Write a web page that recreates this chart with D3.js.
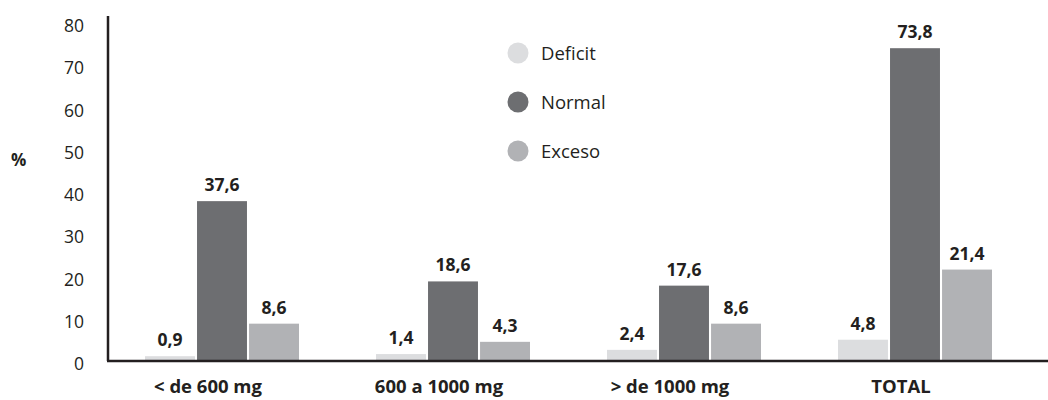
<!DOCTYPE html>
<html>
<head>
<meta charset="utf-8">
<script src="https://cdn.jsdelivr.net/npm/d3@7"></script>
<style>
  html, body { margin: 0; padding: 0; background: #fff; }
  svg { display: block; font-family: "Open Sans", "Noto Sans", sans-serif; }
</style>
</head>
<body>
<svg id="chart" width="1048" height="400"></svg>
<script>
// Consumption groups along the x axis
const categories = ["< de 600 mg", "600 a 1000 mg", "> de 1000 mg", "TOTAL"];
// Series (legend order)
const seriesNames = ["Deficit", "Normal", "Exceso"];
const deficitValues = [0.9, 1.4, 2.4, 4.8];
const normalValues = [37.6, 18.6, 17.6, 73.8];
const excesoValues = [8.6, 4.3, 8.6, 21.4];
const yTicks = [0, 10, 20, 30, 40, 50, 60, 70, 80];
const seriesColors = ["#dcdddf", "#6d6e71", "#b1b2b5"];

const seriesValues = [deficitValues, normalValues, excesoValues];
const ink = "#231f20";

const svg = d3.select("#chart");

const x = d3.scaleBand().domain(categories).range([106.5, 1030.5]).padding(0);
const xInner = d3.scaleBand().domain(seriesNames)
  .range([x.bandwidth() / 2 - 77, x.bandwidth() / 2 + 77])
  .paddingInner(0.04);
const y = d3.scaleLinear().domain([0, 80]).range([360, 22]);

// Y axis tick labels
const yAxis = d3.axisLeft(y).tickValues(yTicks).tickSize(0).tickPadding(0)
  .tickFormat(d3.format("d"));
const yG = svg.append("g").attr("transform", "translate(84,0)").call(yAxis);
yG.select(".domain").remove();
yG.selectAll("text")
  .attr("font-family", "'Open Sans', 'Noto Sans', sans-serif")
  .attr("font-size", 17.5)
  .attr("fill", ink)
  .attr("dy", "0.72em")
  .attr("y", -3);

// "%" unit label
svg.append("text").attr("x", 11).attr("y", 166)
  .attr("font-size", 17).attr("font-weight", 700).attr("fill", ink)
  .text("%");

// Bars
const groups = svg.append("g").selectAll("g")
  .data(categories)
  .join("g")
  .attr("transform", d => `translate(${x(d)},0)`);

groups.each(function(cat, ci) {
  const g = d3.select(this);
  seriesNames.forEach((s, si) => {
    const v = seriesValues[si][ci];
    g.append("rect")
      .attr("x", xInner(s))
      .attr("y", y(v))
      .attr("width", xInner.bandwidth())
      .attr("height", y(0) - y(v))
      .attr("fill", seriesColors[si]);
    g.append("text")
      .attr("x", xInner(s) + xInner.bandwidth() / 2)
      .attr("y", y(v) - 10)
      .attr("text-anchor", "middle")
      .attr("font-size", 17.5)
      .attr("font-weight", 700)
      .attr("fill", ink)
      .text(d3.format(".1f")(v).replace(".", ","));
  });
});

// Category labels
svg.append("g").selectAll("text")
  .data(categories)
  .join("text")
  .attr("x", d => x(d) + x.bandwidth() / 2 - 14)
  .attr("y", 393)
  .attr("text-anchor", "middle")
  .attr("font-size", 18.5)
  .attr("font-weight", 700)
  .attr("fill", ink)
  .text(d => d);

// Axis lines
svg.append("line").attr("x1", 108).attr("x2", 108).attr("y1", 16).attr("y2", 361)
  .attr("stroke", ink).attr("stroke-width", 2.5);
svg.append("line").attr("x1", 107).attr("x2", 1048).attr("y1", 361).attr("y2", 361)
  .attr("stroke", ink).attr("stroke-width", 2.5);

// Legend
const legend = svg.append("g").selectAll("g")
  .data(seriesNames)
  .join("g")
  .attr("transform", (d, i) => `translate(518,${53 + i * 49})`);
legend.append("circle").attr("r", 10.5).attr("fill", (d, i) => seriesColors[i]);
legend.append("text").attr("x", 23).attr("y", 6.5)
  .attr("font-size", 18.5).attr("fill", ink).text(d => d);
</script>
</body>
</html>
